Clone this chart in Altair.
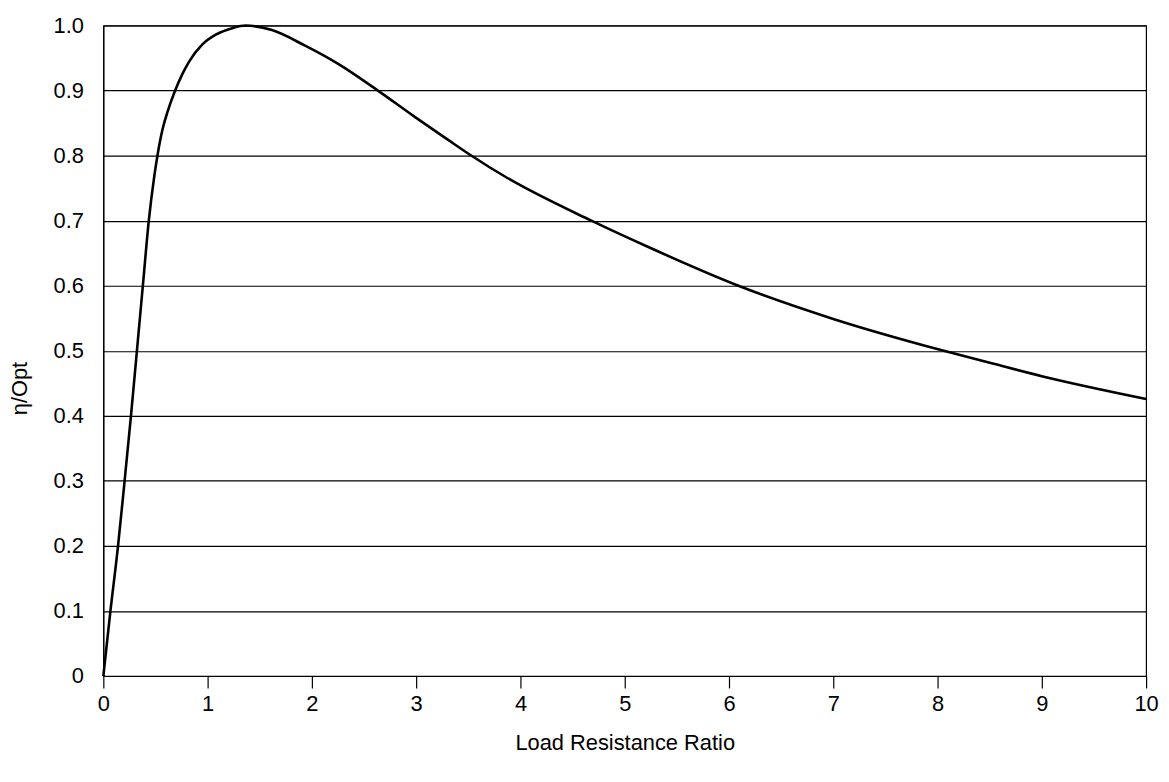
import altair as alt
import pandas as pd

ratio = [0.0, 0.068, 0.141, 0.204, 0.265, 0.322, 0.379, 0.436, 0.49, 0.522, 0.57, 0.617,
         0.681, 0.76, 0.824, 0.95, 1.078, 1.236, 1.364, 1.617, 1.935, 2.252, 2.633,
         2.983, 3.3, 3.52, 3.871, 4.68, 5.205, 6.09, 7.0, 8.06, 8.538, 9.0, 10.0]
eta = [0.0, 0.1, 0.2, 0.3, 0.4, 0.5, 0.6, 0.7, 0.77, 0.803, 0.842, 0.868,
       0.897, 0.926, 0.945, 0.971, 0.986, 0.996, 1.0, 0.993, 0.969, 0.941, 0.9,
       0.86, 0.825, 0.801, 0.766, 0.7, 0.661, 0.6, 0.549, 0.5, 0.48, 0.461, 0.426]

x_ticks = list(range(0, 11))
y_ticks = [0, 0.1, 0.2, 0.3, 0.4, 0.5, 0.6, 0.7, 0.8, 0.9, 1.0]

df = pd.DataFrame({"ratio": ratio, "eta": eta})

font = "Liberation Sans"

chart = alt.Chart(df).mark_line(color="black", strokeWidth=2.6, interpolate="monotone").encode(
    x=alt.X("ratio:Q", scale=alt.Scale(domain=[0, 10], nice=False, zero=True),
            axis=alt.Axis(title="Load Resistance Ratio", values=x_ticks, grid=False,
                          tickSize=12, tickColor="black", tickWidth=1.2,
                          domainColor="black", domainWidth=1.2, labelFlush=False,
                          labelPadding=6, titlePadding=18, format="d")),
    y=alt.Y("eta:Q", scale=alt.Scale(domain=[0, 1.0], nice=False),
            axis=alt.Axis(title="η/Opt", values=y_ticks, grid=True, gridColor="black",
                          gridWidth=1.2, ticks=False, domainColor="black", domainWidth=1.2,
                          labelPadding=20, labelFlush=False, titleX=-84, titleY=365,
                          titleAlign="center", titleBaseline="middle",
                          labelExpr="datum.value == 0 ? '0' : format(datum.value, '.1f')")),
).properties(
    width=1050, height=655,
    autosize=alt.AutoSizeParams(type="none"),
    padding={"left": 96, "top": 15, "right": 15, "bottom": 95},
).configure_axis(
    labelFont=font, titleFont=font, labelFontSize=22, titleFontSize=22,
    labelColor="black", titleColor="black", titleFontWeight="normal",
).configure_view(
    stroke="black", strokeWidth=1.2,
)

chart.save("out.html", embed_options={"renderer": "svg", "actions": False})
